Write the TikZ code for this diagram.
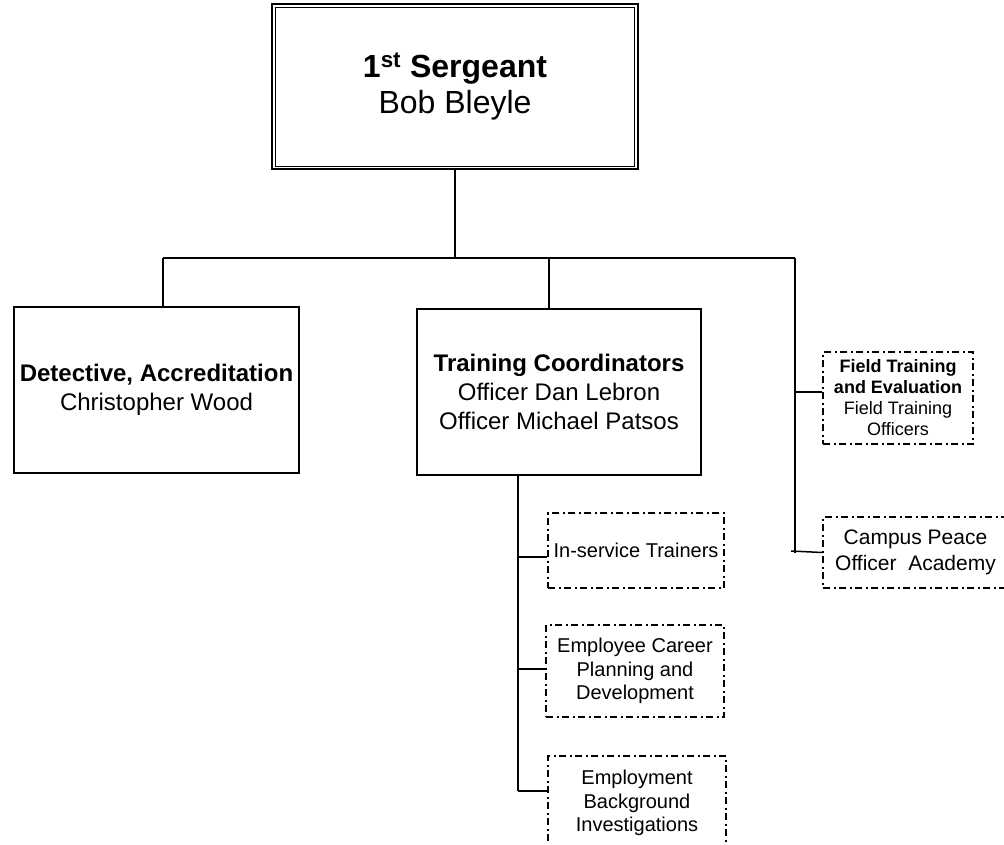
\documentclass[tikz,border=0pt]{standalone}
\usepackage{fontspec}
\setmainfont{Liberation Sans}
\begin{document}
\begin{tikzpicture}[x=1pt,y=-1pt,
  box/.style={draw,line width=1.6pt,align=center,inner sep=0pt},
  dbox/.style={draw,line width=1.3pt,dash pattern=on 7pt off 3.5pt on 2pt off 3.5pt,align=center,inner sep=0pt},
  conn/.style={line width=1.5pt}]
\clip (0,0) rectangle (1004,844);
% top box
\node[box, line width=2.6pt, minimum width=366pt, minimum height=165pt,
      font=\fontsize{32}{36}\selectfont] (top) at (455,86.5)
  {{\bfseries 1\textsuperscript{st} Sergeant}\\Bob Bleyle};
\draw[line width=1.4pt] ([shift={(5,5)}]top.north west) rectangle ([shift={(-5,-4)}]top.south east);
% second level
\node[box, minimum width=285pt, minimum height=166pt,
      font=\fontsize{24}{29}\selectfont] (det) at (156.5,390)
  {{\bfseries Detective, Accreditation}\\Christopher Wood};
\node[box, minimum width=284pt, minimum height=166pt,
      font=\fontsize{24}{29}\selectfont] (tc) at (559,392)
  {{\bfseries Training Coordinators}\\Officer Dan Lebron\\Officer Michael Patsos};
% dashed boxes under training coordinators
\node[dbox, minimum width=176pt, minimum height=75pt,
      font=\fontsize{20}{23.5}\selectfont] (ist) at (636,550.5) {In-service Trainers};
\node[dbox, minimum width=178pt, minimum height=92pt,
      font=\fontsize{20}{23.5}\selectfont] (ecp) at (635,671) {Employee Career\\Planning and\\Development};
\node[dbox, minimum width=178pt, minimum height=94pt,
      font=\fontsize{20}{23.5}\selectfont] (ebi) at (637,803) {Employment\\Background\\Investigations};
% right side dashed boxes
\node[dbox, minimum width=150pt, minimum height=92pt,
      font=\fontsize{18}{21}\selectfont] (fte) at (898,398)
  {{\bfseries Field Training}\\{\bfseries and Evaluation}\\Field Training\\Officers};
\node[dbox, minimum width=185pt, minimum height=71pt,
      font=\fontsize{21}{26}\selectfont] (cpoa) at (915.5,552.5)
  {Campus Peace\\Officer\ \ Academy};
% connectors
\coordinate (j0) at (455,258);
\coordinate (jL) at (163,258);
\coordinate (jM) at (549,258);
\coordinate (jR) at (795,258);
\coordinate (jRe) at (795,553);
\draw[conn] (top.south) -- (j0);
\draw[conn] (jL) -- (jR);
\draw[conn] (jL) -- (jL |- det.north);
\draw[conn] (jM) -- (jM |- tc.north);
\draw[conn] (jR) -- (jRe);
\coordinate (bF) at (795,392);
\draw[conn] (bF) -- (bF -| fte.west);
\coordinate (bC) at (791,551);
\draw[conn] (bC) -- (cpoa.west);
\coordinate (t0) at (518,0);
\coordinate (t3) at (518,791);
\draw[conn] (t0 |- tc.south) -- (t3);
\coordinate (b1) at (518,557);
\coordinate (b2) at (518,669);
\coordinate (b3) at (518,791);
\draw[conn] (b1) -- (b1 -| ist.west);
\draw[conn] (b2) -- (b2 -| ecp.west);
\draw[conn] (b3) -- (b3 -| ebi.west);
\end{tikzpicture}
\end{document}
